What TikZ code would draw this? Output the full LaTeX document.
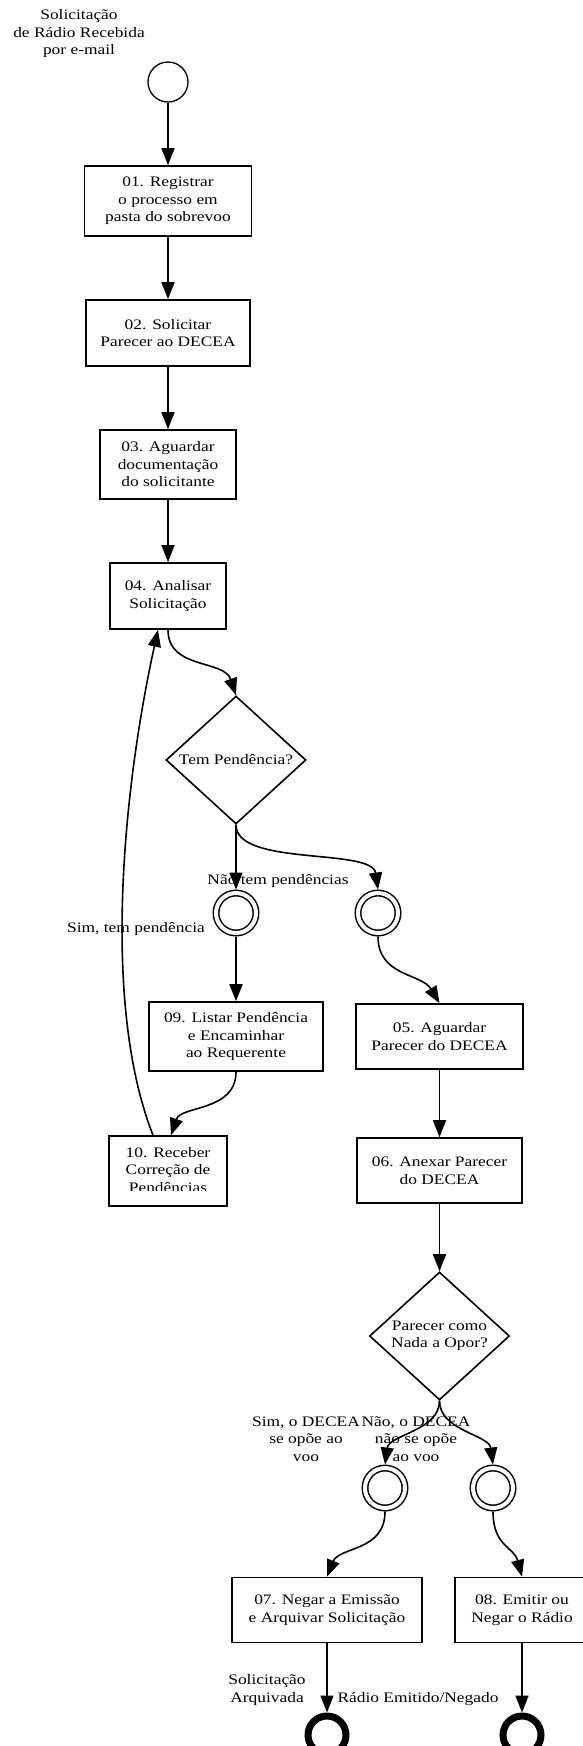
\documentclass[tikz,border=0pt]{standalone}
\usepackage{fontspec}
\setmainfont{Liberation Serif}[FakeStretch=1.2]
\usetikzlibrary{arrows.meta,shapes.geometric}
\begin{document}
\begin{tikzpicture}[x=1pt,y=-1pt,
  txt/.style={font=\fontsize{14.5}{17.5}\selectfont, align=center, inner sep=0pt},
  box/.style={txt, draw, line width=1.6pt, minimum height=66pt},
  dec/.style={txt, draw, shape=diamond, line width=1.6pt, minimum width=140pt, minimum height=128pt},
  startev/.style={draw, circle, line width=1.3pt, minimum size=40pt, inner sep=0pt},
  midev/.style={draw, circle, line width=1.5pt, double, double distance=4pt, minimum size=40pt, inner sep=0pt, outer sep=3.5pt},
  endev/.style={draw, circle, line width=7pt, minimum size=38pt, inner sep=0pt, outer sep=3.5pt},
  arr/.style={line width=1.6pt, -{Triangle[length=17pt,width=13pt]}}
]
\path[use as bounding box, fill=white] (0,0) rectangle (582,1746);

% labels (drawn first, arrows over them)
\node[txt] (sl) at (79,34) {Solicitação\\de Rádio Recebida\\por e-mail};
\node[txt] (l1) at (278,881) {Não tem pendências};
\node[txt] (l2) at (136,929) {Sim, tem pendência};
\node[txt] (l3) at (306,1439) {Sim, o DECEA\\se opõe ao\\voo};
\node[txt] (l4) at (416,1439) {Não, o DECEA\\não se opõe\\ao voo};
\node[txt] (l5) at (267,1690) {Solicitação\\Arquivada};
\node[txt] (l6) at (418,1699) {Rádio Emitido/Negado};

% nodes
\node[startev] (s0) at (168,82) {};
\node[box, minimum width=167pt, minimum height=70pt] (b01) at (168,201) {01. Registrar\\o processo em\\pasta do sobrevoo};
\node[box, minimum width=164pt] (b02) at (168,333) {02. Solicitar\\Parecer ao DECEA};
\node[box, minimum width=136pt, minimum height=69pt] (b03) at (168,464.5) {03. Aguardar\\documentação\\do solicitante};
\node[box, minimum width=116pt] (b04) at (168,596) {04. Analisar\\Solicitação};
\node[dec] (d1) at (236,760) {Tem Pendência?};
\node[midev] (e1) at (236,913) {};
\node[midev] (e2) at (378,913) {};
\node[box, minimum width=174pt, minimum height=69pt] (b09) at (236,1036.5) {09. Listar Pendência\\e Encaminhar\\ao Requerente};
\node[box, minimum width=118pt, minimum height=70pt] (b10) at (168,1171) {};
\begin{scope}
  \clip (b10.north west) rectangle ([yshift=16pt]b10.south east);
  \node[txt] (b10t) at (168,1170) {10. Receber\\Correção de\\Pendências};
\end{scope}
\node[box, minimum width=167pt, minimum height=65pt] (b05) at (439.5,1036.5) {05. Aguardar\\Parecer do DECEA};
\node[box, minimum width=165pt, minimum height=65pt] (b06) at (439.5,1170.5) {06. Anexar Parecer\\do DECEA};
\node[dec] (d2) at (439.5,1336) {Parecer como\\Nada a Opor?};
\node[midev] (e3) at (385,1488) {};
\node[midev] (e4) at (493,1488) {};
\node[box, minimum width=190pt, minimum height=65pt] (b07) at (327,1610) {07. Negar a Emissão\\e Arquivar Solicitação};
\node[box, minimum width=134pt, minimum height=65pt] (b08) at (522,1610) {08. Emitir ou\\Negar o Rádio};
\node[endev] (x1) at (327,1735) {};
\node[endev] (x2) at (522,1735) {};

% connectors
\draw[arr] (s0.south) -- (b01.north);
\draw[arr] (b01.south) -- (b02.north);
\draw[arr] (b02.south) -- (b03.north);
\draw[arr] (b03.south) -- (b04.north);
\draw[arr] (b04.south) .. controls +(0,40) and +(-12,-36) .. (d1.north);
\draw[arr] (d1.south) -- (e1.north);
\draw[arr] (d1.south) .. controls +(0,42) and +(-6,-42) .. (e2.north);
\draw[arr] (e1.south) -- (b09.north);
\draw[arr] (e2.south) .. controls +(0,40) and +(-18,-30) .. (b05.north);
\draw[arr] (b09.south) .. controls +(0,40) and +(10,-30) .. ([xshift=3pt]b10.north);
\draw[arr] ([xshift=-15pt]b10.north) .. controls (100,1000) and (125,780) .. ([xshift=-10pt]b04.south);
\draw[arr] (b05.south) -- (b06.north);
\draw[arr] (b06.south) -- (d2.north);
\draw[arr] (d2.south) .. controls +(0,30) and +(4,-30) .. (e3.north);
\draw[arr] (d2.south) .. controls +(0,30) and +(-4,-30) .. (e4.north);
\draw[arr] (e3.south) .. controls +(0,40) and +(12,-30) .. (b07.north);
\draw[arr] (e4.south) .. controls +(0,35) and +(-8,-30) .. (b08.north);
\draw[arr] (b07.south) -- (x1.north);
\draw[arr] (b08.south) -- (x2.north);
\end{tikzpicture}
\end{document}
